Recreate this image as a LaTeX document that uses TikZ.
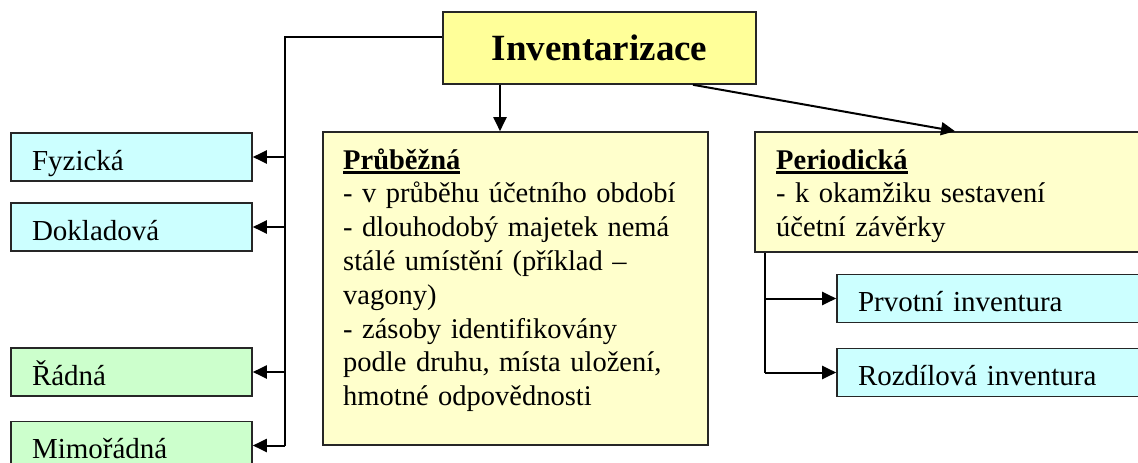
\documentclass[tikz,border=0pt]{standalone}
\usepackage{fontspec}
\setmainfont{Liberation Serif}
\usetikzlibrary{positioning,arrows.meta}

\definecolor{titlefill}{HTML}{FFFF99}
\definecolor{notefill}{HTML}{FFFFCC}
\definecolor{kindfill}{HTML}{CCFFFF}
\definecolor{termfill}{HTML}{CCFFCC}

\newcommand{\ulhead}[1]{\setbox0\hbox{\textbf{#1}}\rlap{\rule[-4.5pt]{\wd0}{2.4pt}}\box0}
\newcommand{\notefont}{\fontsize{28.5}{33.8}\selectfont\setlength{\spaceskip}{0.19em}}

\tikzset{
	box/.style={draw=black!85,line width=1.6pt,inner sep=0pt},
	label box/.style={box,minimum height=48pt,inner xsep=21pt,align=left,
		text height=27pt,text depth=1pt,font=\fontsize{29}{34}\selectfont},
	kind/.style={label box,fill=kindfill,text width=199pt},
	term/.style={label box,fill=termfill,text width=199pt},
	method/.style={label box,fill=kindfill,text width=271pt},
	note/.style={anchor=base west,inner sep=0pt,text width=370pt,align=left,
		font=\notefont},
	line/.style={line width=2pt},
	arrow/.style={line width=2pt,-{Triangle[length=14pt,width=13pt]}}
}

\begin{document}
\begin{tikzpicture}[x=1pt,y=-1pt]

\useasboundingbox(0,0)rectangle(1138,463);

\node[box,fill=titlefill,minimum width=313pt,minimum height=72pt,
	font=\fontsize{37}{40}\selectfont\bfseries] (inv) at (599.5,48) {Inventarizace};

% left column
\node[kind] (fyz) at (131.5,157) {Fyzická};
\node[kind] (dok) at (131.5,227) {Dokladová};
\node[term] (rad) at (131.5,372) {Řádná};
\node[term] (mim) at (131.5,445.5) {Mimořádná};

% middle
\node[box,fill=notefill,minimum width=385pt,minimum height=313pt] (prub) at (515.5,288.5) {};
\node[note] (prubtext) at (343,169) {\ulhead{Průběžná}\\
	- v průběhu účetního období\\
	- dlouhodobý majetek nemá\\
	stálé umístění (příklad –\\
	vagony)\\
	- zásoby identifikovány\\
	podle druhu, místa uložení,\\
	hmotné odpovědnosti};

% right
\node[box,fill=notefill,minimum width=395pt,minimum height=120pt] (per) at (952.5,192) {};
\node[note] (pertext) at (776,169) {\ulhead{Periodická}\\
	- k okamžiku sestavení\\
	účetní závěrky};
\node[method] (prv) at (993.5,298.5) {Prvotní inventura};
\node[method] (roz) at (993.5,372.5) {Rozdílová inventura};

% connectors
\coordinate (lspine) at (285,37);
\draw[line](inv.west |- lspine)--(lspine)--(lspine |- mim.east);
\foreach \b in {fyz,dok,rad,mim}
	\draw[arrow](lspine |- \b.east)--(\b.east);

\coordinate (down) at (500,0);
\draw[arrow](down |- inv.south)--(down |- prub.north);

\coordinate (slant) at (693,0);
\coordinate (slantend) at (955,0);
\draw[arrow](slant |- inv.south)--(slantend |- per.north);

\coordinate (rspine) at (765,0);
\draw[line](rspine |- per.south)--(rspine |- roz.west);
\foreach \b in {prv,roz}
	\draw[arrow](rspine |- \b.west)--(\b.west);

\end{tikzpicture}
\end{document}
